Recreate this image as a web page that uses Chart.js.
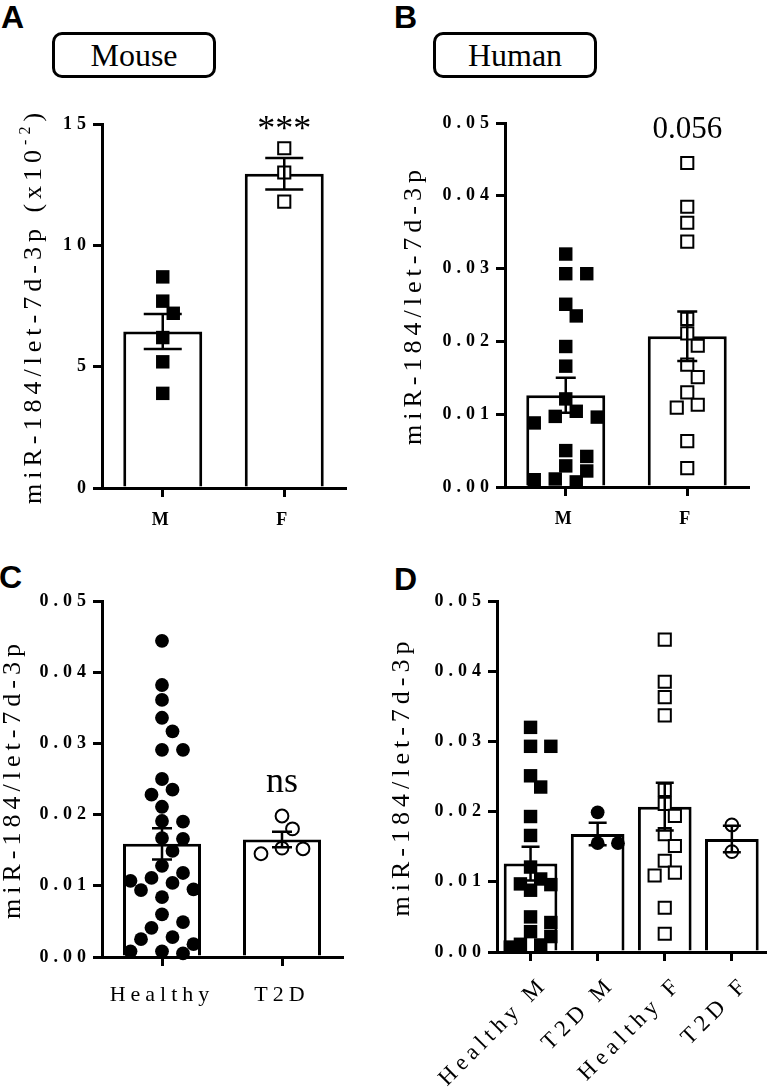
<!DOCTYPE html>
<html>
<head>
<meta charset="utf-8">
<script src="https://cdn.jsdelivr.net/npm/chart.js@4.4.1/dist/chart.umd.min.js"></script>
<style>
  html, body { margin: 0; padding: 0; background: #fff; }
  body { width: 776px; height: 1088px; position: relative; overflow: hidden; }
  canvas { position: absolute; }
  .letter { position: absolute; font: bold 32px 'Liberation Sans', Arial, sans-serif; line-height: 1; }
  .box { position: absolute; width: 164px; height: 46px; box-sizing: border-box; border: 3px solid #000; border-radius: 10px;
         font: 32px 'Liberation Serif', 'Times New Roman', serif; text-align: center; line-height: 40px; }
</style>
</head>
<body>
<div class="letter" style="left:1px;top:1px">A</div>
<div class="letter" style="left:394px;top:1px">B</div>
<div class="letter" style="left:-1px;top:561px">C</div>
<div class="letter" style="left:394px;top:563px">D</div>
<div class="box" style="left:52px;top:32px">Mouse</div>
<div class="box" style="left:433px;top:32px">Human</div>

<canvas id="chartA" width="388" height="450" style="left:0px;top:90px"></canvas>
<canvas id="chartB" width="388" height="450" style="left:388px;top:90px"></canvas>
<canvas id="chartC" width="388" height="528" style="left:0px;top:560px"></canvas>
<canvas id="chartD" width="388" height="528" style="left:388px;top:560px"></canvas>

<script>
// ---- datos ----
const A_CATS = ['M', 'F'];
const A_Y_TICKS = [0, 5, 10, 15];
const A_M = [8.7, 7.7, 7.2, 6.2, 5.2, 3.9];
const A_F = [14.0, 13.0, 11.8];
const A_MEAN = [6.45, 12.95];
const A_SEM = [0.72, 0.65];

const B_CATS = ['M', 'F'];
const HUMAN_Y_TICKS = [0, 0.01, 0.02, 0.03, 0.04, 0.05];
const HUMAN_M = [0.0320, 0.0293, 0.0293, 0.0251, 0.0235, 0.0193, 0.0166, 0.0121, 0.0104, 0.0097,
                 0.0096, 0.0088, 0.0050, 0.0042, 0.0029, 0.0022, 0.0011, 0.0010, 0.0007];
const HUMAN_F = [0.0445, 0.0385, 0.0363, 0.0337, 0.0231, 0.0211, 0.0194, 0.0168, 0.0151, 0.0130,
                 0.0113, 0.0109, 0.0063, 0.0026];
const B_MEAN = [0.0126, 0.0207];
const B_SEM = [0.0024, 0.0034];

const C_CATS = ['Healthy', 'T2D'];
const C_HEALTHY = [0.0444, 0.0382, 0.0361, 0.0336, 0.0317, 0.0291, 0.0291, 0.0250, 0.0235, 0.0228,
                   0.0211, 0.0191, 0.0190, 0.0167, 0.0166, 0.0149, 0.0128, 0.0118, 0.0111, 0.0107,
                   0.0104, 0.0095, 0.0094, 0.0084, 0.0060, 0.0049, 0.0041, 0.0028, 0.0025, 0.0018,
                   0.0008, 0.0008, 0.0005];
const C_T2D = [0.0198, 0.0180, 0.0153, 0.0152, 0.0145];
const C_MEAN = [0.0159, 0.0165];
const C_SEM = [0.0022, 0.0011];

const D_CATS = ['Healthy M', 'T2D M', 'Healthy F', 'T2D F'];
const D_T2D_M = [0.0199, 0.0155, 0.0155];
const D_T2D_F = [0.0181, 0.0143];
const D_MEAN = [0.0126, 0.0168, 0.0207, 0.0161];
const D_SEM = [0.0024, 0.0016, 0.0034, 0.0019];

const Y_TITLE = 'miR-184/let-7d-3p';
const SERIF = "'Liberation Serif', 'Times New Roman', serif";

// reparte los puntos de cada grupo sin que se pisen (tipo beeswarm)
function swarm(values, idx, pxX, pxY, maxHalf) {
  const step = 10.5, minD = 14;
  const placed = [];
  const out = new Array(values.length);
  const order = values.map((v, i) => i).sort((a, b) => values[b] - values[a]);
  const nSteps = Math.floor(maxHalf / step);
  order.forEach(i => {
    const y = values[i] * pxY;
    let best = 0, bestD = -1;
    for (let k = 0; k <= nSteps * 2; k++) {
      const off = k === 0 ? 0 : (k % 2 ? 1 : -1) * Math.ceil(k / 2) * step;
      let d = Infinity;
      placed.forEach(p => { d = Math.min(d, Math.hypot(p.x - off, p.y - y)); });
      if (d >= minD) { best = off; bestD = d; break; }
      if (d > bestD) { best = off; bestD = d; }
    }
    placed.push({ x: best, y: y });
    out[i] = { x: idx + best / pxX, y: values[i] };
  });
  return out;
}

// espaciado de letras para textos de ejes
const spacingPlugin = {
  id: 'spacing',
  beforeDraw(chart) { chart.ctx.letterSpacing = '5px'; },
  beforeDatasetsDraw(chart) { chart.ctx.letterSpacing = '0px'; }
};

// barras de error (media ± SEM)
const errPlugin = {
  id: 'errbars',
  afterDatasetsDraw(chart, args, opts) {
    if (!opts.means) return;
    const { ctx, scales: { x, y } } = chart;
    ctx.save();
    ctx.strokeStyle = '#000';
    ctx.lineWidth = 2.5;
    opts.means.forEach((m, i) => {
      const px = x.getPixelForValue(i);
      const top = y.getPixelForValue(m + opts.sems[i]);
      const bot = y.getPixelForValue(m - opts.sems[i]);
      ctx.beginPath();
      ctx.moveTo(px, top); ctx.lineTo(px, bot);
      ctx.moveTo(px - opts.cap / 2, top); ctx.lineTo(px + opts.cap / 2, top);
      ctx.moveTo(px - opts.cap / 2, bot); ctx.lineTo(px + opts.cap / 2, bot);
      ctx.stroke();
    });
    ctx.restore();
  }
};

// textos de significancia y título con superíndice
const notesPlugin = {
  id: 'notes',
  afterDraw(chart, args, opts) {
    const { ctx, scales: { x, y }, chartArea } = chart;
    ctx.save();
    ctx.letterSpacing = '0px';
    ctx.fillStyle = '#000';
    (opts.items || []).forEach(n => {
      ctx.font = n.size + 'px ' + SERIF;
      ctx.textAlign = 'center';
      ctx.textBaseline = 'alphabetic';
      ctx.fillText(n.text, x.getPixelForValue(n.x), y.getPixelForValue(n.y));
    });
    if (opts.supTitle) {
      const t = opts.supTitle;
      ctx.letterSpacing = '5px';
      ctx.translate(t.baseX, (chartArea.top + chartArea.bottom) / 2);
      ctx.rotate(-Math.PI / 2);
      ctx.textAlign = 'left';
      ctx.font = '26px ' + SERIF;
      const w1 = ctx.measureText(t.main).width;
      const w3 = ctx.measureText(t.close).width;
      ctx.font = '16px ' + SERIF;
      const w2 = ctx.measureText(t.sup).width;
      let sx = -(w1 + w2 + w3) / 2;
      ctx.font = '26px ' + SERIF;
      ctx.fillText(t.main, sx, 0);
      ctx.font = '16px ' + SERIF;
      ctx.fillText(t.sup, sx + w1, -11);
      ctx.font = '26px ' + SERIF;
      ctx.fillText(t.close, sx + w1 + w2, 0);
    }
    ctx.restore();
  }
};

function panel(id, o) {
  const yMax = o.yTicks[o.yTicks.length - 1];
  const pxX = o.plotW / o.cats.length;
  const pxY = o.plotH / yMax;
  const datasets = [{
    type: 'bar',
    data: o.means.map((m, i) => ({ x: i, y: m })),
    backgroundColor: '#fff',
    borderColor: '#000',
    borderWidth: 3,
    barPercentage: o.barPct,
    categoryPercentage: 1,
    order: 2
  }];
  o.groups.forEach(g => {
    datasets.push({
      type: 'scatter',
      data: swarm(g.values, g.idx, pxX, pxY, o.maxHalf),
      pointStyle: g.shape,
      pointRadius: g.shape === 'rect' ? (g.filled ? 9.5 : 8.6) : (g.filled ? 6.9 : 6.4),
      backgroundColor: g.filled ? '#000' : '#fff',
      borderColor: '#000',
      borderWidth: g.filled ? 0 : 2,
      clip: false,
      order: 1
    });
  });

  const axisGrid = { offset: false, drawOnChartArea: false, drawTicks: true, tickLength: 9, tickWidth: 3,
                     tickColor: '#000', lineWidth: 3, color: '#000' };
  const axisBorder = { display: true, width: 3, color: '#000' };

  return new Chart(document.getElementById(id), {
    type: 'scatter',
    data: { datasets: datasets },
    plugins: [spacingPlugin, errPlugin, notesPlugin],
    options: {
      responsive: false,
      animation: false,
      devicePixelRatio: 1,
      layout: { padding: { top: o.padTop, right: o.padRight, left: 0, bottom: 0 } },
      plugins: {
        legend: { display: false },
        tooltip: { enabled: false },
        errbars: { means: o.means, sems: o.sems, cap: o.cap },
        notes: { items: o.notes, supTitle: o.supTitle }
      },
      scales: {
        x: {
          type: 'linear',
          offset: false,
          min: -0.5,
          max: o.cats.length - 0.5,
          afterFit: s => { s.height = o.xH; },
          afterBuildTicks: s => { s.ticks = o.cats.map((c, i) => ({ value: i })); },
          grid: axisGrid,
          border: axisBorder,
          ticks: {
            autoSkip: false,
            maxRotation: o.rot,
            minRotation: o.rot,
            padding: o.xPad,
            labelOffset: o.xShift || 0,
            color: '#000',
            font: o.xFont,
            callback: (v, i) => o.cats[i]
          }
        },
        y: {
          min: 0,
          max: yMax,
          afterFit: s => { s.width = o.yW; },
          afterBuildTicks: s => { s.ticks = o.yTicks.map(v => ({ value: v })); },
          grid: axisGrid,
          border: axisBorder,
          ticks: {
            padding: 2,
            color: '#000',
            font: { family: SERIF, weight: 'bold', size: 18 },
            callback: o.yFmt
          },
          title: {
            display: !!o.yTitle,
            text: o.yTitle || '',
            color: '#000',
            font: { family: SERIF, size: 26, lineHeight: 1 },
            padding: { top: o.titlePad || 0, bottom: 0 }
          }
        }
      }
    }
  });
}

const fmt2 = v => v.toFixed(2);
const boldX = { family: SERIF, weight: 'bold', size: 18 };
const plainX = { family: SERIF, size: 22 };

panel('chartA', {
  cats: A_CATS, yTicks: A_Y_TICKS, means: A_MEAN, sems: A_SEM,
  groups: [
    { values: A_M, idx: 0, shape: 'rect', filled: true },
    { values: A_F, idx: 1, shape: 'rect', filled: false }
  ],
  plotW: 243, plotH: 364, padTop: 34, padRight: 43, yW: 102, xH: 52,
  barPct: 0.65, maxHalf: 32, cap: 38, xPad: 13, xFont: boldX, rot: 0,
  yFmt: v => String(v),
  notes: [{ text: '***', x: 1, y: 14.35, size: 36 }],
  supTitle: { baseX: 41, main: 'miR-184/let-7d-3p (x10', sup: '-2', close: ')' }
});

panel('chartB', {
  cats: B_CATS, yTicks: HUMAN_Y_TICKS, means: B_MEAN, sems: B_SEM,
  groups: [
    { values: HUMAN_M, idx: 0, shape: 'rect', filled: true },
    { values: HUMAN_F, idx: 1, shape: 'rect', filled: false }
  ],
  plotW: 243, plotH: 364, padTop: 33, padRight: 28, yW: 117, xH: 53,
  barPct: 0.65, maxHalf: 32, cap: 20, xPad: 13, xFont: boldX, rot: 0,
  yFmt: fmt2, yTitle: Y_TITLE, titlePad: 13,
  notes: [{ text: '0.056', x: 1, y: 0.0479, size: 31 }]
});

panel('chartC', {
  cats: C_CATS, yTicks: HUMAN_Y_TICKS, means: C_MEAN, sems: C_SEM,
  groups: [
    { values: C_HEALTHY, idx: 0, shape: 'circle', filled: true },
    { values: C_T2D, idx: 1, shape: 'circle', filled: false }
  ],
  plotW: 240, plotH: 356, padTop: 41, padRight: 46, yW: 102, xH: 131,
  barPct: 0.65, maxHalf: 32, cap: 20, xPad: 16, xFont: plainX, rot: 0,
  yFmt: fmt2, yTitle: Y_TITLE, titlePad: 0,
  notes: [{ text: 'ns', x: 1, y: 0.0232, size: 36 }]
});

panel('chartD', {
  cats: D_CATS, yTicks: HUMAN_Y_TICKS, means: D_MEAN, sems: D_SEM,
  groups: [
    { values: HUMAN_M, idx: 0, shape: 'rect', filled: true },
    { values: D_T2D_M, idx: 1, shape: 'circle', filled: true },
    { values: HUMAN_F, idx: 2, shape: 'rect', filled: false },
    { values: D_T2D_F, idx: 3, shape: 'circle', filled: false }
  ],
  plotW: 278, plotH: 351, padTop: 41, padRight: 1, yW: 109, xH: 136,
  barPct: 0.8, maxHalf: 22, cap: 18, xPad: 10, xShift: 14, xFont: { family: SERIF, size: 23 }, rot: 45,
  yFmt: fmt2, yTitle: Y_TITLE, titlePad: 1,
  notes: []
});
</script>
</body>
</html>
